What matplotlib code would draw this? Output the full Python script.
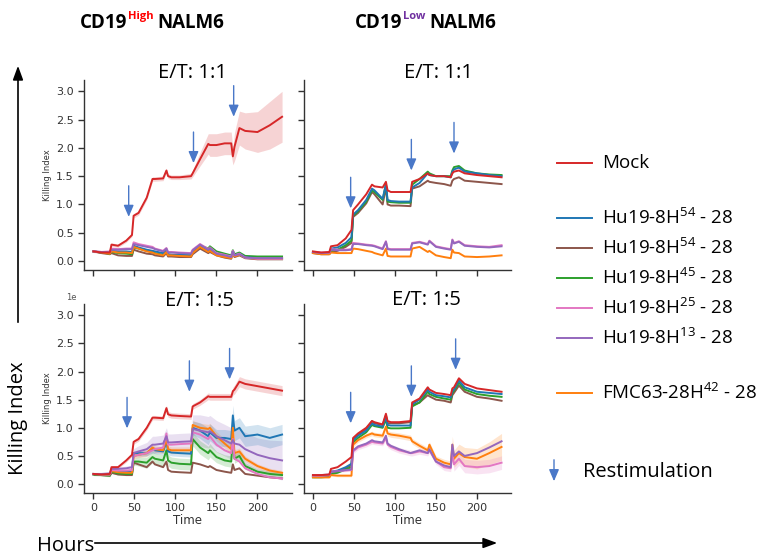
import numpy as np, matplotlib
matplotlib.use("Agg"); import matplotlib.pyplot as plt
from matplotlib.patches import FancyArrowPatch
from matplotlib.lines import Line2D
plt.rcParams['font.family'] = ['Open Sans', 'DejaVu Sans']
plt.rcParams['mathtext.default'] = 'regular'

# ---- data (hours, killing index) ----
hours = [0, 10, 20, 22, 30, 40, 47, 49, 55, 65, 72, 75, 85, 89, 91, 95, 105, 119, 121, 130,
         140, 142, 150, 160, 168, 170, 172, 178, 185, 200, 215, 230]
series_names = ["Mock", "Hu19-8H$^{54}$ - 28", "Hu19-8H$^{54}$ - 28", "Hu19-8H$^{45}$ - 28",
                "Hu19-8H$^{25}$ - 28", "Hu19-8H$^{13}$ - 28", "FMC63-28H$^{42}$ - 28"]
series_colors = ["#d62728", "#1f77b4", "#8c564b", "#2ca02c", "#e377c2", "#9467bd", "#ff7f0e"]
panel_titles = ["E/T: 1:1", "E/T: 1:1", "E/T: 1:5", "E/T: 1:5"]
x_ticks = [0, 50, 100, 150, 200]
y_ticks = [0.0, 0.5, 1.0, 1.5, 2.0, 2.5, 3.0]

# CD19 high, E/T 1:1
hi11_mock = [0.17,0.15,0.15,0.29,0.27,0.36,0.46,0.80,0.85,1.12,1.45,1.45,1.46,1.60,1.50,1.48,1.48,1.50,1.55,1.80,2.07,2.05,2.05,2.08,2.08,1.85,2.02,2.35,2.30,2.28,2.40,2.55]
hi11_h54a = [0.17,0.15,0.14,0.18,0.17,0.17,0.16,0.27,0.24,0.20,0.18,0.17,0.14,0.19,0.12,0.11,0.11,0.10,0.16,0.27,0.18,0.20,0.13,0.10,0.08,0.17,0.10,0.13,0.07,0.05,0.05,0.05]
hi11_h54b = [0.17,0.14,0.12,0.14,0.10,0.09,0.09,0.20,0.17,0.13,0.12,0.10,0.08,0.14,0.08,0.08,0.07,0.07,0.12,0.22,0.14,0.16,0.10,0.06,0.04,0.14,0.07,0.10,0.05,0.03,0.03,0.03]
hi11_h45 = [0.17,0.15,0.13,0.16,0.14,0.13,0.12,0.24,0.22,0.18,0.16,0.14,0.11,0.17,0.11,0.11,0.10,0.10,0.17,0.28,0.22,0.26,0.17,0.13,0.10,0.19,0.12,0.15,0.09,0.08,0.08,0.08]
hi11_h25 = [0.17,0.16,0.17,0.22,0.21,0.22,0.22,0.33,0.30,0.27,0.25,0.22,0.18,0.23,0.16,0.16,0.15,0.14,0.20,0.30,0.21,0.24,0.14,0.11,0.08,0.18,0.10,0.13,0.06,0.04,0.04,0.04]
hi11_h13 = [0.17,0.16,0.16,0.20,0.20,0.21,0.21,0.30,0.28,0.25,0.23,0.21,0.17,0.22,0.15,0.15,0.14,0.13,0.19,0.29,0.20,0.23,0.13,0.10,0.07,0.17,0.10,0.12,0.06,0.05,0.05,0.05]
hi11_fmc = [0.17,0.15,0.13,0.17,0.15,0.15,0.14,0.25,0.22,0.17,0.15,0.13,0.10,0.16,0.10,0.10,0.09,0.08,0.14,0.25,0.16,0.18,0.10,0.07,0.05,0.15,0.08,0.11,0.06,0.04,0.04,0.04]
hi11_mock_sd = [0.02,0.02,0.02,0.03,0.03,0.03,0.03,0.04,0.04,0.04,0.04,0.04,0.04,0.04,0.04,0.04,0.04,0.05,0.06,0.12,0.18,0.20,0.20,0.20,0.20,0.15,0.25,0.30,0.32,0.36,0.42,0.45]

# CD19 low, E/T 1:1
lo11_mock = [0.17,0.15,0.16,0.26,0.28,0.40,0.55,0.90,1.00,1.18,1.35,1.32,1.30,1.40,1.25,1.22,1.22,1.22,1.40,1.45,1.55,1.52,1.50,1.50,1.48,1.55,1.58,1.60,1.55,1.52,1.50,1.48]
lo11_h54a = [0.16,0.14,0.14,0.22,0.24,0.32,0.42,0.82,0.90,1.08,1.28,1.25,1.10,1.35,1.08,1.06,1.05,1.05,1.30,1.38,1.55,1.52,1.50,1.50,1.48,1.58,1.62,1.65,1.58,1.55,1.52,1.50]
lo11_h54b = [0.14,0.12,0.12,0.16,0.18,0.25,0.32,0.78,0.85,1.02,1.22,1.18,1.00,1.30,1.00,0.98,0.98,0.97,1.28,1.32,1.42,1.40,1.38,1.36,1.33,1.42,1.45,1.48,1.42,1.40,1.38,1.36]
lo11_h45 = [0.15,0.13,0.13,0.18,0.20,0.28,0.36,0.80,0.88,1.05,1.25,1.22,1.08,1.36,1.05,1.04,1.03,1.03,1.35,1.45,1.58,1.55,1.50,1.50,1.50,1.60,1.66,1.68,1.60,1.55,1.53,1.52]
lo11_h25 = [0.16,0.15,0.15,0.21,0.20,0.20,0.21,0.32,0.31,0.29,0.28,0.27,0.22,0.35,0.22,0.21,0.21,0.21,0.32,0.34,0.30,0.36,0.26,0.23,0.21,0.38,0.32,0.35,0.28,0.26,0.25,0.28]
lo11_h13 = [0.16,0.14,0.15,0.20,0.19,0.19,0.20,0.30,0.30,0.28,0.27,0.26,0.21,0.34,0.21,0.20,0.20,0.20,0.31,0.33,0.29,0.35,0.25,0.22,0.20,0.37,0.31,0.34,0.27,0.25,0.24,0.26]
lo11_fmc = [0.14,0.12,0.12,0.15,0.14,0.14,0.14,0.22,0.21,0.18,0.16,0.14,0.10,0.22,0.09,0.08,0.08,0.08,0.22,0.25,0.16,0.18,0.10,0.07,0.05,0.20,0.15,0.14,0.08,0.07,0.08,0.10]

# CD19 high, E/T 1:5
hi15_mock = [0.18,0.17,0.18,0.30,0.30,0.42,0.52,0.75,0.80,1.00,1.18,1.18,1.17,1.35,1.24,1.22,1.21,1.20,1.38,1.45,1.56,1.55,1.55,1.55,1.55,1.65,1.68,1.82,1.78,1.74,1.70,1.66]
hi15_h54a = [0.18,0.17,0.17,0.25,0.23,0.22,0.22,0.55,0.55,0.55,0.62,0.60,0.58,0.75,0.58,0.56,0.55,0.54,1.00,0.95,0.85,0.92,0.82,0.82,0.80,1.22,0.95,1.00,0.85,0.88,0.82,0.88]
hi15_h54b = [0.17,0.16,0.15,0.20,0.17,0.16,0.16,0.38,0.35,0.30,0.40,0.35,0.30,0.40,0.25,0.22,0.21,0.20,0.38,0.35,0.30,0.32,0.25,0.22,0.20,0.35,0.25,0.28,0.18,0.15,0.12,0.10]
hi15_h45 = [0.17,0.16,0.15,0.22,0.19,0.18,0.18,0.40,0.40,0.38,0.48,0.45,0.42,0.60,0.42,0.38,0.36,0.35,0.80,0.65,0.55,0.60,0.48,0.42,0.40,0.85,0.45,0.50,0.32,0.22,0.18,0.16]
hi15_h25 = [0.18,0.17,0.17,0.25,0.24,0.24,0.25,0.50,0.52,0.55,0.60,0.62,0.65,0.90,0.70,0.70,0.71,0.72,0.92,0.88,0.80,0.85,0.70,0.60,0.55,0.80,0.45,0.40,0.28,0.18,0.12,0.10]
hi15_h13 = [0.18,0.18,0.19,0.27,0.27,0.28,0.30,0.55,0.58,0.62,0.70,0.70,0.72,0.85,0.74,0.74,0.75,0.76,0.98,0.95,0.92,0.94,0.85,0.78,0.72,0.78,0.72,0.70,0.62,0.52,0.46,0.42]
hi15_fmc = [0.18,0.17,0.17,0.23,0.21,0.20,0.20,0.50,0.52,0.55,0.65,0.62,0.60,0.80,0.62,0.60,0.60,0.60,1.05,1.00,0.98,1.00,0.85,0.72,0.62,1.00,0.55,0.58,0.45,0.32,0.24,0.20]
hi15_mock_sd = [0.02,0.02,0.02,0.03,0.03,0.03,0.03,0.04,0.04,0.04,0.04,0.04,0.04,0.05,0.05,0.05,0.05,0.05,0.05,0.05,0.06,0.06,0.06,0.06,0.06,0.07,0.08,0.09,0.09,0.09,0.09,0.09]
hi15_h54a_sd = [0.02,0.02,0.02,0.03,0.03,0.03,0.03,0.05,0.05,0.05,0.06,0.06,0.06,0.06,0.06,0.06,0.06,0.06,0.12,0.14,0.15,0.15,0.15,0.15,0.15,0.18,0.18,0.18,0.18,0.18,0.18,0.18]
hi15_h13_sd = [0.02,0.02,0.02,0.03,0.03,0.04,0.04,0.08,0.10,0.12,0.15,0.15,0.15,0.15,0.15,0.15,0.15,0.15,0.25,0.28,0.28,0.28,0.28,0.28,0.28,0.28,0.28,0.28,0.30,0.30,0.32,0.35]
hi15_h45_sd = [0.02,0.02,0.02,0.03,0.03,0.03,0.03,0.06,0.08,0.10,0.10,0.10,0.10,0.10,0.10,0.10,0.10,0.10,0.12,0.12,0.12,0.12,0.10,0.10,0.10,0.10,0.08,0.08,0.06,0.05,0.05,0.05]
hi15_fmc_sd = [0.02,0.02,0.02,0.03,0.03,0.03,0.03,0.05,0.05,0.06,0.06,0.06,0.06,0.06,0.06,0.06,0.06,0.06,0.08,0.08,0.08,0.08,0.08,0.08,0.08,0.08,0.06,0.06,0.05,0.04,0.04,0.04]

# CD19 low, E/T 1:5
lo15_mock = [0.16,0.16,0.17,0.27,0.30,0.40,0.48,0.82,0.90,1.00,1.12,1.10,1.06,1.25,1.12,1.10,1.10,1.12,1.45,1.52,1.72,1.68,1.62,1.60,1.58,1.70,1.72,1.88,1.78,1.70,1.67,1.64]
lo15_h54a = [0.14,0.14,0.15,0.22,0.24,0.30,0.36,0.78,0.86,0.95,1.08,1.05,1.02,1.20,1.05,1.04,1.04,1.04,1.42,1.50,1.68,1.64,1.58,1.56,1.54,1.65,1.68,1.84,1.72,1.64,1.62,1.60]
lo15_h54b = [0.13,0.13,0.14,0.20,0.22,0.28,0.34,0.80,0.88,0.98,1.12,1.08,1.05,1.22,1.08,1.08,1.08,1.10,1.40,1.45,1.58,1.56,1.50,1.48,1.45,1.58,1.62,1.75,1.64,1.55,1.52,1.48]
lo15_h45 = [0.12,0.12,0.13,0.18,0.20,0.26,0.30,0.74,0.82,0.92,1.05,1.03,1.00,1.15,1.00,0.99,0.99,1.00,1.38,1.45,1.64,1.60,1.55,1.52,1.50,1.62,1.66,1.80,1.68,1.60,1.57,1.55]
lo15_h25 = [0.15,0.15,0.16,0.22,0.23,0.24,0.25,0.58,0.65,0.70,0.75,0.74,0.72,0.82,0.70,0.66,0.60,0.55,0.55,0.58,0.55,0.60,0.40,0.30,0.28,0.55,0.35,0.45,0.32,0.30,0.32,0.38]
lo15_h13 = [0.16,0.16,0.17,0.22,0.23,0.25,0.26,0.60,0.67,0.72,0.78,0.76,0.74,0.86,0.72,0.68,0.62,0.55,0.56,0.60,0.55,0.62,0.40,0.33,0.30,0.70,0.50,0.58,0.50,0.55,0.65,0.76]
lo15_fmc = [0.12,0.12,0.12,0.16,0.15,0.15,0.15,0.70,0.78,0.86,0.90,0.88,0.86,1.02,0.90,0.88,0.86,0.82,0.76,0.68,0.60,0.70,0.45,0.38,0.35,0.70,0.45,0.55,0.48,0.45,0.55,0.66]
lo15_fmc_sd = [0.02,0.02,0.02,0.02,0.02,0.02,0.02,0.04,0.04,0.04,0.04,0.04,0.04,0.05,0.05,0.05,0.05,0.05,0.05,0.05,0.05,0.05,0.05,0.06,0.06,0.15,0.15,0.16,0.17,0.18,0.20,0.24]
lo15_h25_sd = [0.02,0.02,0.02,0.02,0.02,0.02,0.02,0.04,0.04,0.04,0.04,0.04,0.04,0.05,0.05,0.05,0.05,0.05,0.05,0.05,0.05,0.05,0.05,0.06,0.06,0.10,0.12,0.12,0.12,0.12,0.12,0.12]

# restimulation arrows: hour and arrow-tip height per panel
hi11_arrow_h = [43, 122, 171]; hi11_arrow_y = [0.78, 1.73, 2.55]
lo11_arrow_h = [46, 120, 172]; lo11_arrow_y = [0.93, 1.60, 1.90]
hi15_arrow_h = [41, 117, 166]; hi15_arrow_y = [0.99, 1.64, 1.86]
lo15_arrow_h = [46, 120, 174]; lo15_arrow_y = [1.08, 1.55, 2.03]

# ---- figure ----
W, H = 765, 556
fig = plt.figure(figsize=(W/100, H/100), dpi=100)
def fx(x): return x/W
def fy(y): return 1 - y/H

panels = [
    dict(rect=(84, 80, 291.5, 269.5), series=[hi11_mock, hi11_h54a, hi11_h54b, hi11_h45, hi11_h25, hi11_h13, hi11_fmc],
         bands=[(0, hi11_mock_sd)], arrows=(hi11_arrow_h, hi11_arrow_y), left=True, bottom=False, title_xy=(193, 73)),
    dict(rect=(303.5, 80, 511, 269.5), series=[lo11_mock, lo11_h54a, lo11_h54b, lo11_h45, lo11_h25, lo11_h13, lo11_fmc],
         bands=[], arrows=(lo11_arrow_h, lo11_arrow_y), left=False, bottom=False, title_xy=(439, 73)),
    dict(rect=(84, 304, 291.5, 492.5), series=[hi15_mock, hi15_h54a, hi15_h54b, hi15_h45, hi15_h25, hi15_h13, hi15_fmc],
         bands=[(5, hi15_h13_sd), (3, hi15_h45_sd), (6, hi15_fmc_sd), (1, hi15_h54a_sd), (0, hi15_mock_sd)],
         arrows=(hi15_arrow_h, hi15_arrow_y), left=True, bottom=True, title_xy=(199, 301)),
    dict(rect=(303.5, 304, 511, 492.5), series=[lo15_mock, lo15_h54a, lo15_h54b, lo15_h45, lo15_h25, lo15_h13, lo15_fmc],
         bands=[(6, lo15_fmc_sd), (4, lo15_h25_sd)], arrows=(lo15_arrow_h, lo15_arrow_y), left=False, bottom=True, title_xy=(426, 300)),
]

t = np.array(hours)
for k, p in enumerate(panels):
    x0, y0, x1, y1 = p["rect"]
    ax = fig.add_axes([fx(x0), fy(y1), fx(x1) - fx(x0), fy(y0) - fy(y1)])
    for i, sd in p["bands"]:
        v = np.array(p["series"][i]); s = np.array(sd)
        ax.fill_between(t, v - s, v + s, color=series_colors[i], alpha=0.2, lw=0)
    for i in [2, 3, 1, 6, 4, 5, 0]:
        ax.plot(t, p["series"][i], color=series_colors[i], lw=1.4, zorder=3 if i else 4)
    for h, y in zip(*p["arrows"]):
        ax.annotate("", xy=(h, y), xytext=(h, y + 0.55),
                    arrowprops=dict(arrowstyle="-|>,head_width=0.3,head_length=0.7", color="#4a78c8",
                                    lw=1.0, mutation_scale=10, shrinkA=0, shrinkB=0), zorder=5)
    ax.set_xlim(-11.5, 241.5); ax.set_ylim(-0.15, 3.2)
    ax.set_xticks(x_ticks); ax.set_yticks(y_ticks)
    for s in ["top", "right"]: ax.spines[s].set_visible(False)
    for s in ["left", "bottom"]: ax.spines[s].set_color("#333333"); ax.spines[s].set_linewidth(1.0)
    ax.tick_params(colors="#333333", labelsize=8, labelfontfamily="DejaVu Sans", length=4, width=1.0,
                   labelleft=p["left"], labelbottom=p["bottom"])
    if p["left"]:
        ax.set_ylabel("Killing Index", fontsize=6, family="DejaVu Sans", color="#333333", labelpad=3)
    if p["bottom"]:
        ax.set_xlabel("Time", fontsize=8.5, family="DejaVu Sans", color="#333333", labelpad=1)
    tx, ty = p["title_xy"]
    fig.text(fx(tx), fy(ty), panel_titles[k], ha="center", va="center", fontsize=14.5)

fig.text(fx(66), fy(298), "1e", fontsize=6, family="DejaVu Sans", color="#555555", ha="left", va="center")

# column headers with coloured superscripts
r = fig.canvas.get_renderer()
for x, sup, col in [(80, "High", "#ff0000"), (355, "Low", "#7030a0")]:
    a = fig.text(fx(x), fy(28), "CD19", fontsize=13.5, weight="bold", ha="left", va="baseline")
    bb = a.get_window_extent(renderer=r)
    b = fig.text(bb.x1/W + 0.001, fy(19), sup, fontsize=8, color=col, weight="bold", ha="left", va="baseline")
    bb2 = b.get_window_extent(renderer=r)
    fig.text(bb2.x1/W + 0.005, fy(28), "NALM6", fontsize=13.5, weight="bold", ha="left", va="baseline")

# big axis arrows
fig.add_artist(FancyArrowPatch((fx(18), fy(325)), (fx(18), fy(63)), transform=fig.transFigure,
                               arrowstyle="-|>,head_width=0.22,head_length=0.6", mutation_scale=14, color="black", lw=1.2))
fig.text(fx(18), fy(418), "Killing Index", rotation=90, ha="center", va="center", fontsize=14.5)
fig.add_artist(FancyArrowPatch((fx(92), fy(543)), (fx(500), fy(543)), transform=fig.transFigure,
                               arrowstyle="-|>,head_width=0.22,head_length=0.6", mutation_scale=14, color="black", lw=1.2))
fig.text(fx(37), fy(546), "Hours", ha="left", va="center", fontsize=14.5)

# legend drawn by hand
leg_y = [163, 218, 248, 278, 308, 338, 393]
for i, y in enumerate(leg_y):
    fig.add_artist(Line2D([fx(557), fx(592)], [fy(y), fy(y)], color=series_colors[i], lw=1.4))
    fig.text(fx(602), fy(y), series_names[i], ha="left", va="center", fontsize=13.5)
fig.add_artist(FancyArrowPatch((fx(554), fy(457)), (fx(554), fy(484)), transform=fig.transFigure,
                               arrowstyle="-|>,head_width=0.3,head_length=0.7", mutation_scale=10, color="#4a78c8", lw=1.0))
fig.text(fx(583), fy(472), "Restimulation", ha="left", va="center", fontsize=14.5)

fig.savefig("out.png", dpi=100)
